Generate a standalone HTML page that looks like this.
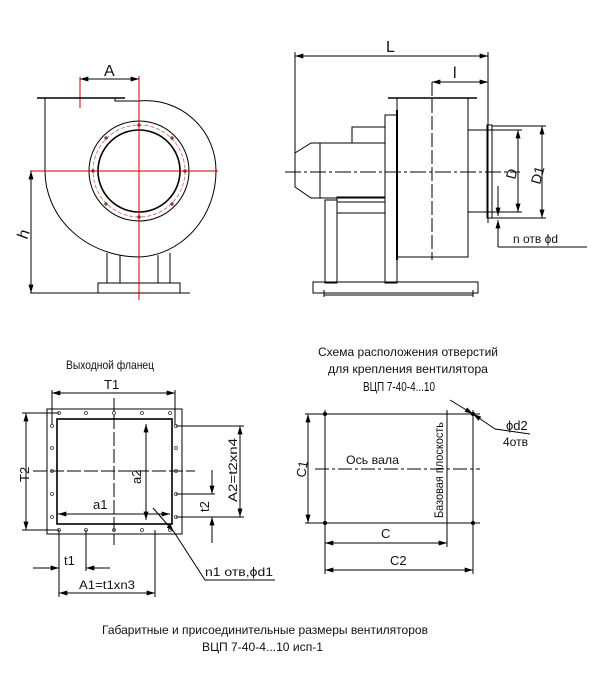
<!DOCTYPE html>
<html><head><meta charset="utf-8"><style>
html,body{margin:0;padding:0;background:#fff;}
svg{display:block}
text{font-family:"Liberation Sans","DejaVu Sans",sans-serif;fill:#111;}
</style></head><body>
<svg width="600" height="674" viewBox="0 0 600 674" xmlns="http://www.w3.org/2000/svg">
<defs>
<marker id="a" viewBox="0 0 10 6" refX="10" refY="3" markerWidth="9" markerHeight="5" orient="auto-start-reverse" markerUnits="userSpaceOnUse"><path d="M0,0 L10,3 L0,6 z" fill="#000"/></marker>
</defs>
<g stroke="#000" stroke-width="1" fill="none">
<line x1="80" y1="79" x2="139" y2="79" marker-start="url(#a)" marker-end="url(#a)"/>
<line x1="80" y1="77" x2="80" y2="108" stroke="#c00"/>
<line x1="37" y1="98" x2="125" y2="98" stroke-width="1.5"/>
<polyline points="115,98 115,101 139,101"/>
<line x1="45" y1="98" x2="45" y2="171"/>
<path d="M139,101 A70,70 0 0 1 216,171 A80,86 0 0 1 139,257 A94,86 0 0 1 45,171"/>
<circle cx="139" cy="171" r="50"/>
<circle cx="139" cy="171" r="46" stroke="#c33" stroke-width="0.6" stroke-dasharray="4,2"/>
<circle cx="139" cy="171" r="41" stroke-width="1.6"/>
<g fill="#a33" stroke="#333" stroke-width="0.5">
<circle cx="139" cy="125" r="1.5"/><circle cx="139" cy="217" r="1.5"/><circle cx="93" cy="171" r="1.5"/><circle cx="185" cy="171" r="1.5"/>
<circle cx="106" cy="138" r="1.5"/><circle cx="172" cy="138" r="1.5"/><circle cx="106" cy="204" r="1.5"/><circle cx="172" cy="204" r="1.5"/>
</g>
<line x1="107" y1="253" x2="107" y2="283"/><line x1="120" y1="255" x2="120" y2="283"/>
<line x1="158" y1="255" x2="158" y2="283"/><line x1="170" y1="253" x2="170" y2="283"/>
<rect x="98" y="283" width="82" height="10"/>
<line x1="87" y1="293" x2="190" y2="293"/>
<line x1="30" y1="293" x2="98" y2="293"/>
<line x1="30" y1="171" x2="45" y2="171"/>
<line x1="31" y1="171" x2="31" y2="293" marker-start="url(#a)" marker-end="url(#a)"/>
<line x1="30" y1="171" x2="218" y2="171" stroke="#c00"/>
<line x1="139" y1="76" x2="139" y2="300" stroke="#c00"/>

<line x1="295" y1="56" x2="488" y2="56" marker-start="url(#a)" marker-end="url(#a)"/>
<line x1="295" y1="52" x2="295" y2="153"/>
<line x1="488" y1="52" x2="488" y2="223"/>
<line x1="432" y1="82" x2="488" y2="82" marker-start="url(#a)" marker-end="url(#a)"/>
<line x1="388" y1="98" x2="477" y2="98" stroke-width="1.5"/>
<rect x="397" y="98" width="71" height="159"/>
<line x1="432" y1="82" x2="432" y2="260" stroke-dasharray="14,3"/>
<rect x="385" y="115" width="12" height="168"/>
<line x1="397" y1="110" x2="397" y2="260" stroke-width="2"/>
<rect x="352" y="127" width="33" height="16"/>
<rect x="320" y="143" width="65" height="55"/>
<polyline points="320,143 311,143 295,153 295,187 311,198 320,198"/>
<rect x="325" y="200" width="12" height="83"/>
<rect x="337" y="197" width="48" height="5"/>
<line x1="337" y1="213" x2="385" y2="213"/>
<rect x="313" y="282" width="165" height="11"/>
<line x1="324" y1="290" x2="324" y2="297"/><line x1="473" y1="290" x2="473" y2="297"/>
<line x1="324" y1="295" x2="473" y2="295"/>
<rect x="468" y="130" width="19" height="82"/>
<rect x="487" y="125" width="5" height="93"/>
<line x1="285" y1="172" x2="520" y2="172" stroke-dasharray="16,3,3,3"/>
<line x1="487" y1="130" x2="522" y2="130"/><line x1="487" y1="212" x2="522" y2="212"/>
<line x1="518" y1="130" x2="518" y2="212" marker-start="url(#a)" marker-end="url(#a)"/>
<line x1="492" y1="126" x2="546" y2="126"/><line x1="492" y1="218" x2="546" y2="218"/>
<line x1="542" y1="126" x2="542" y2="218" marker-start="url(#a)" marker-end="url(#a)"/>
<line x1="498" y1="186" x2="498" y2="216" marker-end="url(#a)"/>
<line x1="498" y1="247" x2="498" y2="220" marker-end="url(#a)"/>
<line x1="498" y1="247" x2="587" y2="247"/>

<line x1="52" y1="393" x2="175" y2="393" marker-start="url(#a)" marker-end="url(#a)"/>
<line x1="52" y1="390" x2="52" y2="425"/><line x1="175" y1="390" x2="175" y2="425"/>
<rect x="47" y="409" width="135" height="125"/>
<rect x="57" y="419" width="115" height="105" stroke-width="1.6"/>
<line x1="114" y1="398" x2="114" y2="545" stroke-dasharray="14,3"/>
<line x1="33" y1="471" x2="195" y2="471" stroke-dasharray="14,3"/>
<line x1="22" y1="413" x2="59" y2="413"/><line x1="22" y1="530" x2="59" y2="530"/>
<line x1="26" y1="413" x2="26" y2="530" marker-start="url(#a)" marker-end="url(#a)"/>
<line x1="146" y1="424" x2="146" y2="520" marker-start="url(#a)" marker-end="url(#a)"/>
<line x1="58" y1="514" x2="170" y2="514" marker-start="url(#a)" marker-end="url(#a)"/>
<line x1="176" y1="426" x2="244" y2="426"/><line x1="176" y1="517" x2="244" y2="517"/>
<line x1="240" y1="426" x2="240" y2="517" marker-start="url(#a)" marker-end="url(#a)"/>
<line x1="176" y1="494" x2="215" y2="494"/>
<line x1="212" y1="470" x2="212" y2="494" marker-end="url(#a)"/>
<line x1="212" y1="543" x2="212" y2="517" marker-end="url(#a)"/>
<line x1="59" y1="530" x2="59" y2="597"/><line x1="86" y1="530" x2="86" y2="571"/>
<line x1="33" y1="568" x2="59" y2="568" marker-end="url(#a)"/>
<line x1="110" y1="568" x2="86" y2="568" marker-end="url(#a)"/>
<line x1="155" y1="530" x2="155" y2="597"/>
<line x1="59" y1="593" x2="155" y2="593" marker-start="url(#a)" marker-end="url(#a)"/>
<line x1="153" y1="508" x2="174" y2="532" marker-end="url(#a)"/>
<polyline points="174,532 205,580 275,580"/>
<g stroke="#333" stroke-width="0.8">
<circle cx="59" cy="413" r="1.5"/><circle cx="86" cy="413" r="1.5"/><circle cx="114" cy="413" r="1.5"/><circle cx="142" cy="413" r="1.5"/><circle cx="170" cy="413" r="1.5"/>
<circle cx="59" cy="530" r="1.5"/><circle cx="86" cy="530" r="1.5"/><circle cx="114" cy="530" r="1.5"/><circle cx="142" cy="530" r="1.5"/><circle cx="170" cy="530" r="1.5"/>
<circle cx="52" cy="426" r="1.5"/><circle cx="52" cy="448" r="1.5"/><circle cx="52" cy="471" r="1.5"/><circle cx="52" cy="494" r="1.5"/><circle cx="52" cy="517" r="1.5"/>
<circle cx="176" cy="426" r="1.5"/><circle cx="176" cy="448" r="1.5"/><circle cx="176" cy="471" r="1.5"/><circle cx="176" cy="494" r="1.5"/><circle cx="176" cy="517" r="1.5"/>
</g>

<line x1="305" y1="414" x2="480" y2="414"/>
<line x1="305" y1="523" x2="480" y2="523"/>
<line x1="325" y1="410" x2="325" y2="574"/>
<line x1="473" y1="410" x2="473" y2="574"/>
<line x1="447" y1="410" x2="447" y2="547"/>
<line x1="315" y1="469" x2="480" y2="469" stroke-dasharray="14,3,3,3"/>
<line x1="308" y1="414" x2="308" y2="523" marker-start="url(#a)" marker-end="url(#a)"/>
<line x1="325" y1="543" x2="447" y2="543" marker-start="url(#a)" marker-end="url(#a)"/>
<line x1="325" y1="570" x2="473" y2="570" marker-start="url(#a)" marker-end="url(#a)"/>
<line x1="450" y1="400" x2="473" y2="414" marker-end="url(#a)"/>
<line x1="495" y1="429" x2="473" y2="414" marker-end="url(#a)"/>
<line x1="495" y1="429" x2="530" y2="434"/>
<g fill="#000" stroke="none">
<circle cx="325" cy="414" r="2"/><circle cx="473" cy="414" r="2"/><circle cx="325" cy="523" r="2"/><circle cx="473" cy="523" r="2"/>
</g>
</g>

<g font-size="16">
<text x="104" y="76">A</text>
<text x="386" y="52">L</text>
<text x="453" y="78">l</text>
<text transform="translate(27,240) rotate(-70)">h</text>
</g>
<g font-size="14">
<text transform="translate(515,180) rotate(-75)">D</text>
<text transform="translate(540,185) rotate(-75)">D1</text>
</g>
<g font-size="12">
<text x="513" y="243">n отв ϕd</text>
<text x="66" y="369" textLength="88" lengthAdjust="spacingAndGlyphs">Выходной фланец</text>
<text x="104" y="389" font-size="13">T1</text>
<text transform="translate(29,482) rotate(-90)" font-size="13">T2</text>
<text transform="translate(141,484) rotate(-90)" font-size="13">a2</text>
<text x="93" y="509" font-size="13">a1</text>
<text transform="translate(237,502) rotate(-90)" textLength="64" lengthAdjust="spacingAndGlyphs">A2=t2xn4</text>
<text transform="translate(209,512) rotate(-90)" font-size="13">t2</text>
<text x="64" y="565" font-size="13">t1</text>
<text x="79" y="589" textLength="56" lengthAdjust="spacingAndGlyphs">A1=t1xn3</text>
<text x="205" y="576" textLength="68" lengthAdjust="spacingAndGlyphs">n1 отв,ϕd1</text>
<text x="318" y="356" textLength="180" lengthAdjust="spacingAndGlyphs">Схема расположения отверстий</text>
<text x="328" y="373" textLength="160" lengthAdjust="spacingAndGlyphs">для крепления вентилятора</text>
<text x="363" y="391" textLength="72" lengthAdjust="spacingAndGlyphs" font-size="13">ВЦП 7-40-4...10</text>
<text x="346" y="464" textLength="53" lengthAdjust="spacingAndGlyphs">Ось вала</text>
<text transform="translate(443,518) rotate(-90)" textLength="96" lengthAdjust="spacingAndGlyphs">Базовая плоскость</text>
<text transform="translate(305,478) rotate(-80)" font-size="13">C1</text>
<text x="381" y="538" font-size="13">C</text>
<text x="390" y="565" font-size="13">C2</text>
<text x="506" y="430" font-size="13">ϕd2</text>
<text x="503" y="446">4отв</text>
<text x="102" y="634" textLength="326" lengthAdjust="spacingAndGlyphs">Габаритные и присоединительные размеры вентиляторов</text>
<text x="202" y="651" textLength="121" lengthAdjust="spacingAndGlyphs">ВЦП 7-40-4...10 исп-1</text>
</g>
</svg>
</body></html>
